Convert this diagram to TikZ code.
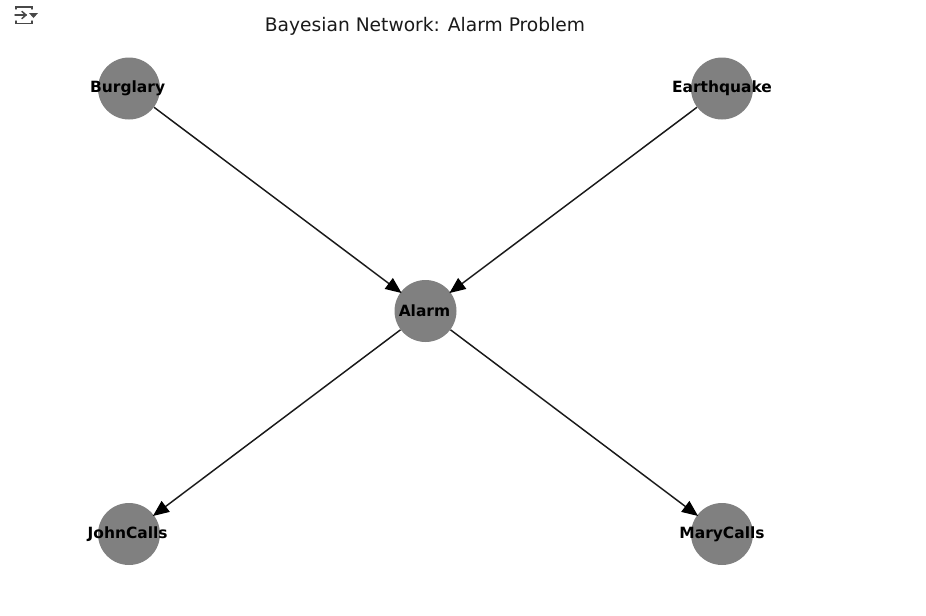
\documentclass[tikz,border=0pt]{standalone}
\usepackage{fontspec}
\setmainfont{DejaVu Sans}
\usetikzlibrary{arrows.meta}
\definecolor{nodegray}{HTML}{808080}
\definecolor{edgeblack}{HTML}{1A1A1A}
\definecolor{icongray}{HTML}{484848}
\tikzset{
 px/.style={x=0.75pt,y=-0.75pt},
 bn/.style={circle,fill=nodegray,minimum size=46.5pt,inner sep=0pt,font=\fontsize{11.6pt}{13pt}\bfseries,text=black},
 edge/.style={draw=edgeblack,line width=1.1pt,shorten >=-1pt,-{Triangle[length=12pt,width=10pt,color=black]}},
 iconline/.style={draw=icongray,line width=1.1pt,line cap=round},
}
\begin{document}
\begin{tikzpicture}[px]
\useasboundingbox (0,0) rectangle (926,615);
\fill[white] (0,0) rectangle (926,615);
\node[bn] (B) at (129,88.5) {\makebox[0pt]{\hspace{-2pt}Burglary}};
\node[bn] (E) at (722,88.5) {\makebox[0pt]{Earthquake}};
\node[bn] (A) at (425.5,311) {\makebox[0pt]{\hspace{-1.5pt}\raisebox{0.75pt}{Alarm}}};
\node[bn] (J) at (129,534) {\makebox[0pt]{\hspace{-2pt}JohnCalls}};
\node[bn] (M) at (722,534) {\makebox[0pt]{\raisebox{-0.6pt}{MaryCalls}}};
\draw[edge] (B) -- (A);
\draw[edge] (E) -- (A);
\draw[edge] (A) -- (J);
\draw[edge] (A) -- (M);
\node[font=\fontsize{14pt}{16pt}\selectfont,text=edgeblack] (T) at (425,26) {Bayesian Network: Alarm Problem};
% toolbar icon
\draw[iconline] (16,9) -- (16,7) -- (32,7) -- (32,9);
\draw[iconline] (16,21) -- (16,23.5) -- (32,23.5) -- (32,21);
\draw[iconline] (15,15) -- (26,15);
\draw[iconline] (22,11.5) -- (26,15) -- (22,18.5);
\fill[icongray] (29,13) -- (38,13) -- (33.5,18) -- cycle;
\end{tikzpicture}
\end{document}
